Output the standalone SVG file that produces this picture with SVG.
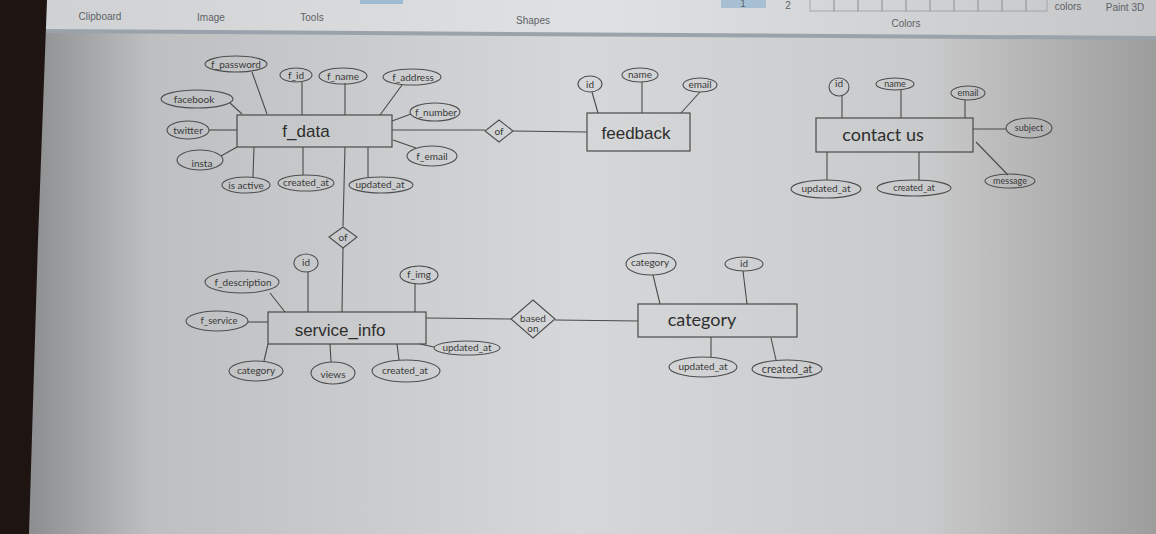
<svg xmlns="http://www.w3.org/2000/svg" width="1156" height="534" viewBox="0 0 1156 534">
<defs>
<linearGradient id="bg" x1="0" y1="0" x2="1" y2="0">
<stop offset="0.03" stop-color="#8f9091"/>
<stop offset="0.13" stop-color="#bdbfc0"/>
<stop offset="0.5" stop-color="#d5d7d8"/>
<stop offset="0.8" stop-color="#c9cacb"/>
<stop offset="1" stop-color="#9e9d9d"/>
</linearGradient>
<linearGradient id="rib" x1="0" y1="0" x2="1" y2="0">
<stop offset="0" stop-color="#cfd1d3"/>
<stop offset="0.5" stop-color="#dfe1e3"/>
<stop offset="1" stop-color="#c4c6c8"/>
</linearGradient>
<style>
.e{fill:none;stroke:#4e4e4e;stroke-width:1.1}
.r{fill:none;stroke:#4a4a4a;stroke-width:1.2}
.c line{stroke:#4a4a4a;stroke-width:1.1;fill:none}
.a{font-family:Lato,"Liberation Sans",sans-serif;font-size:10px;fill:#3a3a3a;text-anchor:middle}
.t{font-family:"Liberation Sans",Arial,sans-serif;font-size:17px;fill:#2e2e2e;text-anchor:middle}
.tc{font-family:Lato,"Liberation Sans",sans-serif;font-size:18px;fill:#2e2e2e;text-anchor:middle}
.rl{font-family:"Liberation Sans",Arial,sans-serif;font-size:10px;fill:#5e6266;text-anchor:middle}
.d{fill:none;stroke:#4e4e4e;stroke-width:1.1}
</style>
</defs>
<rect x="0" y="0" width="1156" height="534" fill="url(#bg)"/>
<polygon points="40,0 1156,0 1156,37 40,30" fill="url(#rib)"/>
<polygon points="40,29 1156,36 1156,40 40,33" fill="#9aa3ab"/>
<polygon points="0,0 47,0 38,240 29,534 0,534" fill="#1e1412"/>
<g id="ribbon">
<rect x="360" y="-2" width="43" height="6" fill="#9fbbd1"/>
<rect x="721" y="-2" width="45" height="10" fill="#a6bfd3"/>
<text x="743" y="7" class="rl">1</text>
<text x="788" y="9" class="rl">2</text>
<g fill="none" stroke="#9a9c9e" stroke-width="0.8">
<rect x="810" y="-2" width="24" height="13"/><rect x="834" y="-2" width="24" height="13"/><rect x="858" y="-2" width="24" height="13"/><rect x="882" y="-2" width="24" height="13"/><rect x="906" y="-2" width="24" height="13"/><rect x="930" y="-2" width="24" height="13"/><rect x="954" y="-2" width="24" height="13"/><rect x="978" y="-2" width="24" height="13"/><rect x="1002" y="-2" width="24" height="13"/><rect x="1026" y="-2" width="21" height="13"/>
</g>
<text x="1068" y="10" class="rl">colors</text>
<text x="1125" y="11" class="rl">Paint 3D</text>
<text x="100" y="20" class="rl">Clipboard</text>
<text x="211" y="21" class="rl">Image</text>
<text x="312" y="21" class="rl">Tools</text>
<text x="533" y="24" class="rl">Shapes</text>
<text x="906" y="27" class="rl">Colors</text>
</g>
<g id="connectors" class="c">
<line x1="252" y1="72" x2="267" y2="114"/>
<line x1="302" y1="82" x2="302" y2="115"/>
<line x1="345" y1="83" x2="345" y2="115"/>
<line x1="402" y1="85" x2="380" y2="115"/>
<line x1="411" y1="114" x2="392" y2="121"/>
<line x1="230" y1="103" x2="242" y2="114"/>
<line x1="209" y1="130" x2="237" y2="130"/>
<line x1="221" y1="156" x2="237" y2="147"/>
<line x1="253" y1="177" x2="254" y2="147"/>
<line x1="303" y1="175" x2="303" y2="147"/>
<line x1="368" y1="177" x2="368" y2="147"/>
<line x1="393" y1="140" x2="416" y2="148"/>
<line x1="392" y1="130" x2="485" y2="130"/>
<line x1="513" y1="131" x2="587" y2="132"/>
<line x1="592" y1="92" x2="598" y2="113"/>
<line x1="642" y1="82" x2="642" y2="113"/>
<line x1="700" y1="92" x2="681" y2="113"/>
<line x1="345" y1="147" x2="343" y2="226"/>
<line x1="343" y1="248" x2="342" y2="312"/>
<line x1="308" y1="272" x2="308" y2="312"/>
<line x1="415" y1="284" x2="415" y2="312"/>
<line x1="270" y1="293" x2="285" y2="312"/>
<line x1="248" y1="322" x2="268" y2="322"/>
<line x1="264" y1="361" x2="268" y2="344"/>
<line x1="331" y1="362" x2="330" y2="344"/>
<line x1="399" y1="360" x2="397" y2="344"/>
<line x1="434" y1="347" x2="420" y2="344"/>
<line x1="426" y1="318" x2="511" y2="319"/>
<line x1="555" y1="320" x2="638" y2="321"/>
<line x1="653" y1="275" x2="660" y2="304"/>
<line x1="743" y1="271" x2="747" y2="304"/>
<line x1="711" y1="337" x2="711" y2="357"/>
<line x1="771" y1="338" x2="776" y2="360"/>
<line x1="842" y1="96" x2="842" y2="118"/>
<line x1="901" y1="90" x2="901" y2="118"/>
<line x1="965" y1="100" x2="965" y2="118"/>
<line x1="973" y1="129" x2="1006" y2="129"/>
<line x1="976" y1="142" x2="1008" y2="175"/>
<line x1="827" y1="152" x2="827" y2="180"/>
<line x1="919" y1="152" x2="919" y2="180"/>
</g>
<g id="f_data">
<rect class="r" x="237" y="115" width="155" height="32"/>
<text class="t" x="306" y="137">f_data</text>
</g>
<g id="f_password"><ellipse class="e" cx="236" cy="64" rx="31" ry="8"/><text class="a" x="236" y="68">f_password</text></g>
<g id="f_data_id"><ellipse class="e" cx="296" cy="75" rx="16" ry="7"/><text class="a" x="296" y="79">f_id</text></g>
<g id="f_name"><ellipse class="e" cx="343" cy="76" rx="24" ry="8"/><text class="a" x="343" y="80">f_name</text></g>
<g id="f_address"><ellipse class="e" cx="412" cy="77" rx="29" ry="8"/><text class="a" x="413" y="81">f_address</text></g>
<g id="f_number"><ellipse class="e" cx="435" cy="112" rx="25" ry="9"/><text class="a" x="436" y="116">f_number</text></g>
<g id="facebook"><ellipse class="e" cx="197" cy="99" rx="36" ry="9"/><text class="a" x="194" y="103">facebook</text></g>
<g id="twitter"><ellipse class="e" cx="188" cy="130" rx="21" ry="9"/><text class="a" x="188" y="134">twitter</text></g>
<g id="insta"><ellipse class="e" cx="200" cy="160" rx="23" ry="10"/><text class="a" x="202" y="167">insta</text></g>
<g id="is_active"><ellipse class="e" cx="246" cy="185" rx="24" ry="8"/><text class="a" x="246" y="189">is active</text></g>
<g id="f_data_created_at"><ellipse class="e" cx="306" cy="183" rx="28" ry="8"/><text class="a" x="306" y="186">created_at</text></g>
<g id="f_data_updated_at"><ellipse class="e" cx="381" cy="185" rx="32" ry="8"/><text class="a" x="380" y="188">updated_at</text></g>
<g id="f_email"><ellipse class="e" cx="432" cy="156" rx="25" ry="10"/><text class="a" x="432" y="160">f_email</text></g>
<g id="rel_of_feedback"><polygon class="d" points="499,120 513,131 499,142 485,131"/><text class="a" x="499" y="135">of</text></g>
<g id="feedback">
<rect class="r" x="587" y="113" width="103" height="38"/>
<text class="t" x="636" y="139">feedback</text>
</g>
<g id="feedback_id"><ellipse class="e" cx="590" cy="84" rx="12" ry="8"/><text class="a" x="590" y="88">id</text></g>
<g id="feedback_name"><ellipse class="e" cx="640" cy="75" rx="18" ry="7"/><text class="a" x="640" y="78">name</text></g>
<g id="feedback_email"><ellipse class="e" cx="700" cy="85" rx="17" ry="7"/><text class="a" x="700" y="88">email</text></g>
<g id="contact_us">
<rect class="r" x="816" y="118" width="157" height="34"/>
<text class="tc" x="883" y="141">contact us</text>
</g>
<g id="contact_id"><ellipse class="e" cx="839" cy="87" rx="10" ry="9"/><text class="a" x="839" y="87">id</text></g>
<g id="contact_name"><ellipse class="e" cx="895" cy="84" rx="19" ry="6"/><text class="a" x="895" y="87" style="font-size:9px">name</text></g>
<g id="contact_email"><ellipse class="e" cx="968" cy="93" rx="17" ry="7"/><text class="a" x="968" y="96" style="font-size:9px">email</text></g>
<g id="contact_subject"><ellipse class="e" cx="1029" cy="128" rx="23" ry="10"/><text class="a" x="1029" y="131" style="font-size:9px">subject</text></g>
<g id="contact_message"><ellipse class="e" cx="1010" cy="181" rx="25" ry="7"/><text class="a" x="1010" y="184" style="font-size:9px">message</text></g>
<g id="contact_updated_at"><ellipse class="e" cx="826" cy="189" rx="35" ry="9"/><text class="a" x="826" y="192">updated_at</text></g>
<g id="contact_created_at"><ellipse class="e" cx="914" cy="188" rx="37" ry="8"/><text class="a" x="914" y="191" style="font-size:9px">created_at</text></g>
<g id="rel_of_service"><polygon class="d" points="343,227 357,237 343,248 329,237"/><text class="a" x="343" y="241">of</text></g>
<g id="service_info">
<rect class="r" x="268" y="312" width="158" height="32"/>
<text class="t" x="340" y="336">service_info</text>
</g>
<g id="service_id"><ellipse class="e" cx="306" cy="263" rx="12" ry="9"/><text class="a" x="306" y="266">id</text></g>
<g id="f_img"><ellipse class="e" cx="419" cy="275" rx="19" ry="9"/><text class="a" x="419" y="278">f_img</text></g>
<g id="f_description"><ellipse class="e" cx="242" cy="282" rx="37" ry="11"/><text class="a" x="243" y="286">f_description</text></g>
<g id="f_service"><ellipse class="e" cx="217" cy="321" rx="31" ry="10"/><text class="a" x="219" y="324" style="font-size:9.5px">f_service</text></g>
<g id="service_category"><ellipse class="e" cx="256" cy="371" rx="27" ry="10"/><text class="a" x="256" y="374">category</text></g>
<g id="views"><ellipse class="e" cx="333" cy="373" rx="22" ry="11"/><text class="a" x="333" y="378">views</text></g>
<g id="service_created_at"><ellipse class="e" cx="406" cy="371" rx="34" ry="11"/><text class="a" x="405" y="374">created_at</text></g>
<g id="service_updated_at"><ellipse class="e" cx="467" cy="348" rx="33" ry="7"/><text class="a" x="467" y="351">updated_at</text></g>
<g id="rel_based_on"><polygon class="d" points="533,300 555,319 533,338 511,319"/><text class="a" x="533" y="322">based</text><text class="a" x="533" y="332">on</text></g>
<g id="category">
<rect class="r" x="638" y="304" width="159" height="33"/>
<text class="tc" x="702" y="326">category</text>
</g>
<g id="category_category"><ellipse class="e" cx="651" cy="264" rx="25" ry="11"/><text class="a" x="650" y="266">category</text></g>
<g id="category_id"><ellipse class="e" cx="744" cy="264" rx="19" ry="7"/><text class="a" x="744" y="267">id</text></g>
<g id="category_updated_at"><ellipse class="e" cx="703" cy="367" rx="34" ry="10"/><text class="a" x="703" y="370">updated_at</text></g>
<g id="category_created_at"><ellipse class="e" cx="787" cy="369" rx="35" ry="9"/><text class="a" x="787" y="373" style="font-size:11px">created_at</text></g>
</svg>
